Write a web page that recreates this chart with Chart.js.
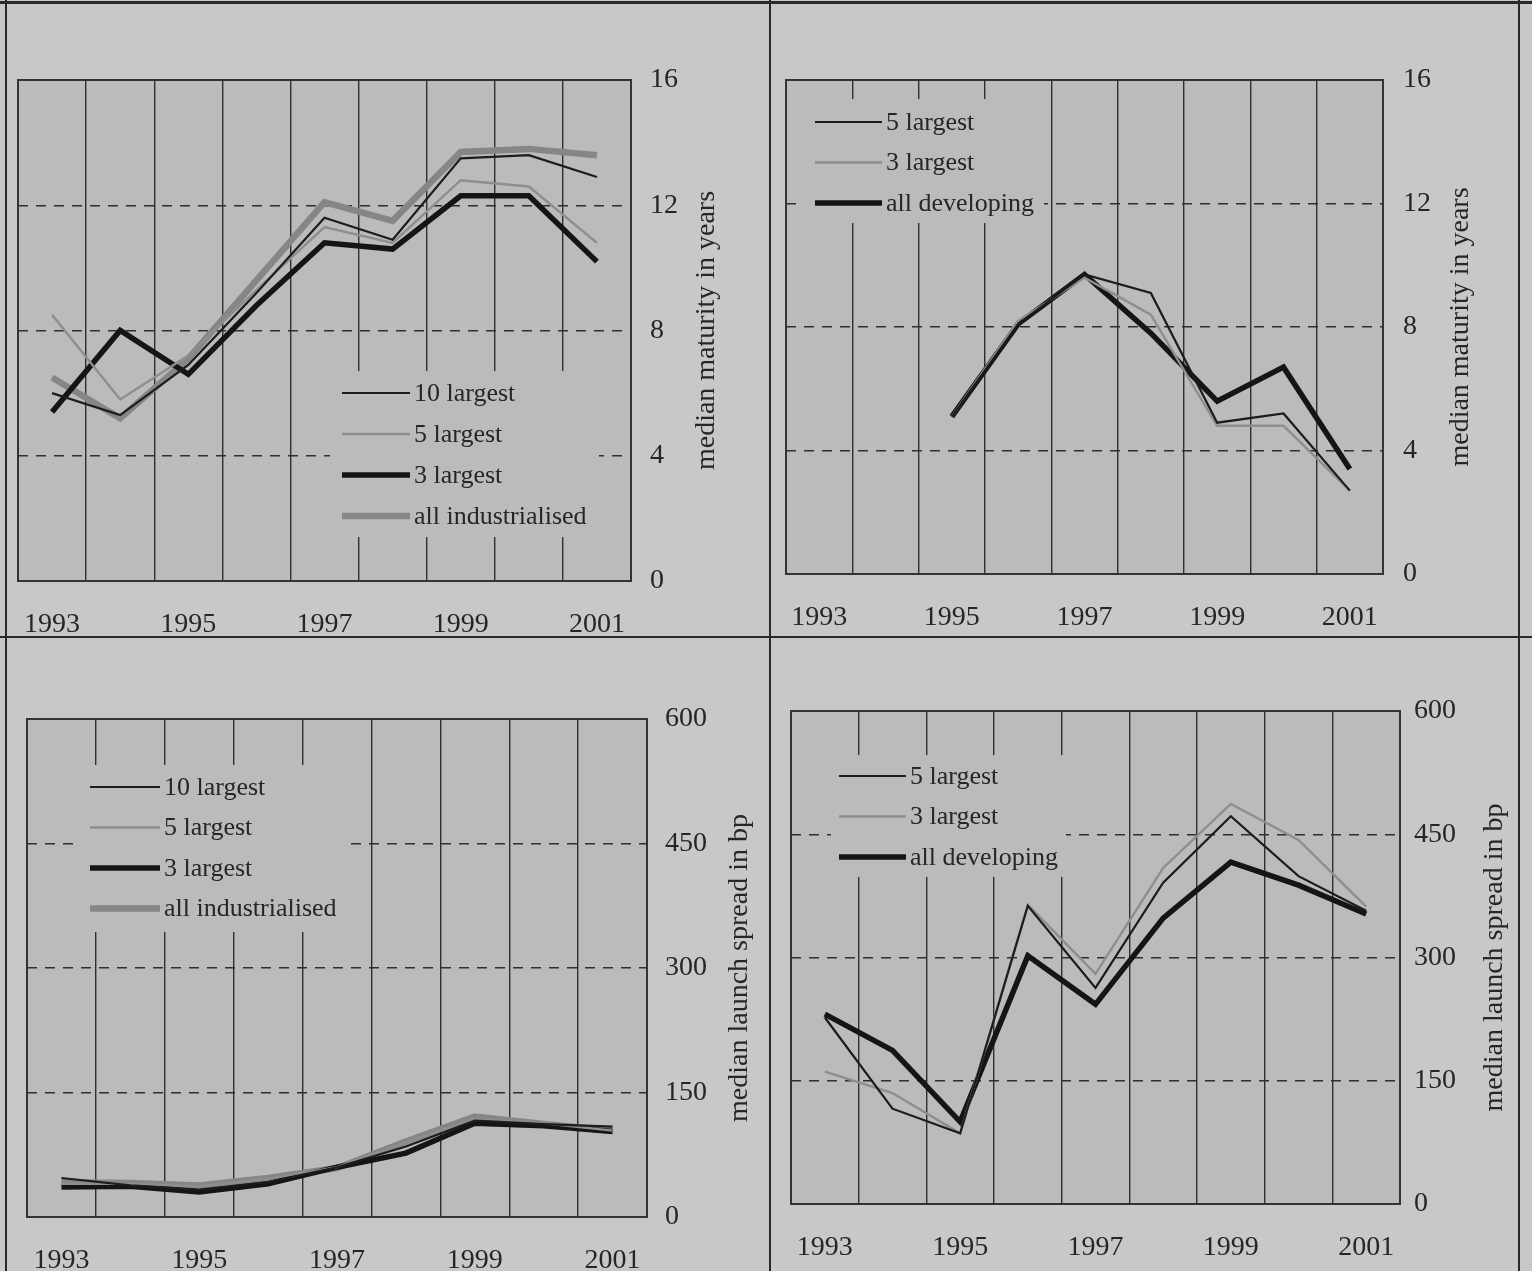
<!DOCTYPE html>
<html>
<head>
<meta charset="utf-8">
<script src="https://cdn.jsdelivr.net/npm/chart.js@4.4.1/dist/chart.umd.min.js"></script>
<style>
  html, body { margin: 0; padding: 0; }
  body { width: 1532px; height: 1271px; overflow: hidden; background: #c8c8c8; }
  #page { position: relative; width: 1532px; height: 1271px; }
  #page canvas { position: absolute; }
  .rule { position: absolute; background: #2a2a2a; }
</style>
</head>
<body>
<div id="page">
  <canvas id="matInd" width="770" height="637" style="left:0;top:0"></canvas>
  <canvas id="matDev" width="762" height="637" style="left:770px;top:0"></canvas>
  <canvas id="sprInd" width="770" height="634" style="left:0;top:637px"></canvas>
  <canvas id="sprDev" width="762" height="634" style="left:770px;top:637px"></canvas>

  <div class="rule" style="left:0;top:1px;width:1532px;height:3px"></div>
  <div class="rule" style="left:5px;top:0;width:2px;height:1271px"></div>
  <div class="rule" style="left:1518px;top:0;width:2px;height:1271px"></div>
  <div class="rule" style="left:769px;top:0;width:2px;height:1271px"></div>
  <div class="rule" style="left:0;top:636px;width:1532px;height:2px"></div>
</div>

<script>
// years on the category axis, only every other one gets a label
const years = ['1993', '1994', '1995', '1996', '1997', '1998', '1999', '2000', '2001'];

// median maturity in years, industrialised borrowers
const matInd10 = [6.0, 5.3, 6.9, 9.2, 11.6, 10.9, 13.5, 13.6, 12.9];
const matInd5 = [8.5, 5.8, 7.2, 9.3, 11.3, 10.8, 12.8, 12.6, 10.8];
const matInd3 = [5.4, 8.0, 6.6, 8.8, 10.8, 10.6, 12.3, 12.3, 10.2];
const matIndAll = [6.5, 5.2, 7.1, 9.6, 12.1, 11.5, 13.7, 13.8, 13.6];

// median maturity in years, developing borrowers (no data before 1995)
const matDev5 = [null, null, 5.1, 8.1, 9.7, 9.1, 4.9, 5.2, 2.7];
const matDev3 = [null, null, 5.1, 8.2, 9.6, 8.4, 4.8, 4.8, 2.7];
const matDevAll = [null, null, 5.1, 8.1, 9.7, 7.8, 5.6, 6.7, 3.4];

// median launch spread in bp, industrialised borrowers
const sprInd10 = [47, 38, 33, 42, 60, 85, 116, 112, 109];
const sprInd5 = [40, 40, 37, 46, 60, 90, 118, 113, 104];
const sprInd3 = [36, 37, 30, 40, 60, 77, 113, 110, 103];
const sprIndAll = [42, 41, 38, 47, 59, 91, 121, 112, 104];

// median launch spread in bp, developing borrowers
const sprDev5 = [227, 116, 86, 363, 263, 391, 472, 399, 357];
const sprDev3 = [161, 135, 86, 364, 280, 409, 487, 443, 362];
const sprDevAll = [231, 187, 100, 302, 243, 348, 416, 388, 353];

// y axis ticks
const maturityTicks = { max: 16, step: 4 };
const spreadTicks = { max: 600, step: 150 };

const FONT = '"Liberation Serif", "Times New Roman", serif';
const INK = '#262626';
const PLOT_FILL = '#bbbbbb';
const GRID = '#2f2f2f';

const thinBlack = { borderColor: '#1c1c1c', borderWidth: 2.2 };
const thinGrey = { borderColor: '#8e8e8e', borderWidth: 2.4 };
const thickBlack = { borderColor: '#151515', borderWidth: 5.5 };
const thickGrey = { borderColor: '#868686', borderWidth: 6.5 };

Chart.defaults.font.family = FONT;
Chart.defaults.color = INK;

// plot fill, legend box, frame and the rotated axis title
const panelDecor = {
  id: 'panelDecor',
  beforeDraw(chart, args, opts) {
    const { ctx, chartArea: a } = chart;
    ctx.save();
    ctx.fillStyle = PLOT_FILL;
    ctx.fillRect(a.left, a.top, a.width, a.height);
    ctx.restore();
  },
  beforeDatasetsDraw(chart, args, opts) {
    const { ctx, chartArea: a } = chart;
    const b = opts.legend.box;
    ctx.save();
    // legend sits on an opaque patch that hides the grid behind it
    ctx.fillStyle = PLOT_FILL;
    ctx.fillRect(b[0], b[1], b[2], b[3]);
    ctx.strokeStyle = '#333';
    ctx.lineWidth = 2;
    ctx.strokeRect(a.left, a.top, a.width, a.height);
    ctx.restore();
  },
  afterDatasetsDraw(chart, args, opts) {
    const { ctx, chartArea: a } = chart;
    const lg = opts.legend;
    ctx.save();
    ctx.font = '26px ' + FONT;
    ctx.textBaseline = 'middle';
    ctx.textAlign = 'left';
    chart.data.datasets.forEach((ds, i) => {
      const y = lg.firstRow + i * lg.rowGap;
      ctx.strokeStyle = ds.borderColor;
      ctx.lineWidth = ds.borderWidth;
      ctx.lineCap = 'butt';
      ctx.beginPath();
      ctx.moveTo(lg.sample[0], y);
      ctx.lineTo(lg.sample[1], y);
      ctx.stroke();
      ctx.fillStyle = INK;
      ctx.fillText(ds.label, lg.textX, y + 1);
    });
    ctx.restore();

    ctx.save();
    ctx.font = '28px ' + FONT;
    ctx.fillStyle = INK;
    ctx.textAlign = 'center';
    ctx.textBaseline = 'middle';
    ctx.translate(a.right + opts.titleOffset, (a.top + a.bottom) / 2);
    ctx.rotate(-Math.PI / 2);
    ctx.fillText(opts.title, 0, 0);
    ctx.restore();
  }
};

function makePanel(id, p) {
  const last = p.ticks.max / p.ticks.step;
  new Chart(document.getElementById(id), {
    type: 'line',
    data: {
      labels: years,
      datasets: p.series.map(s => Object.assign({
        label: s.label,
        data: s.data,
        pointRadius: 0,
        tension: 0,
        borderJoinStyle: 'miter',
        borderCapStyle: 'butt',
        spanGaps: false,
        fill: false
      }, s.style))
    },
    options: {
      responsive: false,
      animation: false,
      events: [],
      layout: {
        autoPadding: false,
        padding: { left: p.area.left, top: p.area.top, right: 0, bottom: 0 }
      },
      scales: {
        x: {
          type: 'category',
          offset: true,
          grid: { offset: true, color: GRID, lineWidth: 1.4, drawTicks: false },
          border: { display: false },
          ticks: {
            autoSkip: false,
            maxRotation: 0,
            padding: 27,
            color: INK,
            font: { size: 28 },
            callback(val, idx) { return idx % 2 === 0 ? years[idx] : ''; }
          },
          afterFit(scale) {
            scale.height = p.area.xHeight;
            // keep the plot edge where the layout padding puts it
            scale.paddingLeft = 0;
            scale.paddingRight = 0;
          }
        },
        y: {
          position: 'right',
          min: 0,
          max: p.ticks.max,
          grid: {
            drawTicks: false,
            lineWidth: 1.4,
            color: ctx => (ctx.index === 0 || ctx.index === last) ? 'rgba(0,0,0,0)' : GRID
          },
          border: { display: false, dash: [10, 8] },
          ticks: {
            stepSize: p.ticks.step,
            padding: p.yTickPad,
            color: INK,
            font: { size: 28 }
          },
          afterFit(scale) { scale.width = p.area.yWidth; }
        }
      },
      plugins: {
        legend: { display: false },
        tooltip: { enabled: false },
        panelDecor: { legend: p.legend, title: p.title, titleOffset: p.titleOffset }
      }
    },
    plugins: [panelDecor]
  });
}

makePanel('matInd', {
  series: [
    { label: '10 largest', data: matInd10, style: thinBlack },
    { label: '5 largest', data: matInd5, style: thinGrey },
    { label: '3 largest', data: matInd3, style: thickBlack },
    { label: 'all industrialised', data: matIndAll, style: thickGrey }
  ],
  ticks: maturityTicks,
  area: { left: 18, top: 80, yWidth: 139, xHeight: 56 },
  yTickPad: 19,
  title: 'median maturity in years',
  titleOffset: 76,
  legend: { box: [330, 371, 269, 166], sample: [342, 410], textX: 414, firstRow: 393, rowGap: 41 }
});

makePanel('matDev', {
  series: [
    { label: '5 largest', data: matDev5, style: thinBlack },
    { label: '3 largest', data: matDev3, style: thinGrey },
    { label: 'all developing', data: matDevAll, style: thickBlack }
  ],
  ticks: maturityTicks,
  area: { left: 16, top: 80, yWidth: 149, xHeight: 63 },
  yTickPad: 20,
  title: 'median maturity in years',
  titleOffset: 78,
  legend: { box: [29, 99, 245, 124], sample: [45, 112], textX: 116, firstRow: 122, rowGap: 40.5 }
});

makePanel('sprInd', {
  series: [
    { label: '10 largest', data: sprInd10, style: thinBlack },
    { label: '5 largest', data: sprInd5, style: thinGrey },
    { label: '3 largest', data: sprInd3, style: thickBlack },
    { label: 'all industrialised', data: sprIndAll, style: thickGrey }
  ],
  ticks: spreadTicks,
  area: { left: 27, top: 82, yWidth: 123, xHeight: 54 },
  yTickPad: 18,
  title: 'median launch spread in bp',
  titleOffset: 93,
  legend: { box: [81, 128, 268, 167], sample: [90, 160], textX: 164, firstRow: 150, rowGap: 40.5 }
});

makePanel('sprDev', {
  series: [
    { label: '5 largest', data: sprDev5, style: thinBlack },
    { label: '3 largest', data: sprDev3, style: thinGrey },
    { label: 'all developing', data: sprDevAll, style: thickBlack }
  ],
  ticks: spreadTicks,
  area: { left: 21, top: 74, yWidth: 132, xHeight: 67 },
  yTickPad: 14,
  title: 'median launch spread in bp',
  titleOffset: 95,
  legend: { box: [61, 118, 235, 122], sample: [69, 136], textX: 140, firstRow: 139, rowGap: 40.5 }
});
</script>
</body>
</html>
